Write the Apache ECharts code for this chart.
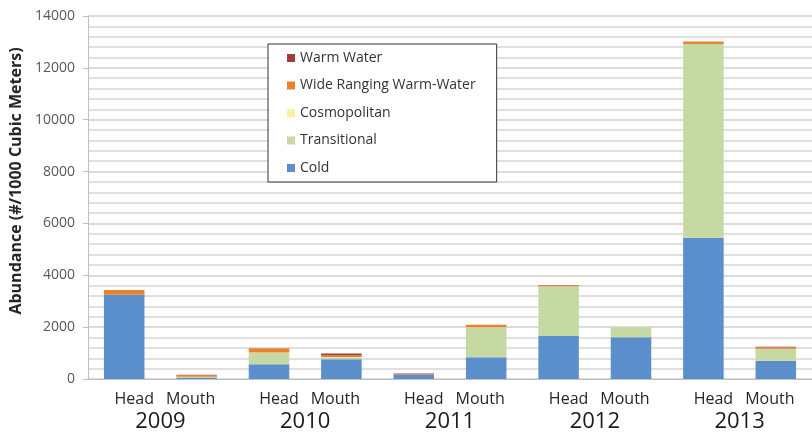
<!DOCTYPE html>
<html>
<head>
<meta charset="utf-8">
<script src="https://cdn.jsdelivr.net/npm/echarts@6/dist/echarts.min.js"></script>
<style>html,body{margin:0;padding:0;background:#fff;}#c{width:812px;height:436px;}</style>
</head>
<body>
<div id="c"></div>
<script>
var sites = ['Head','Mouth','Head','Mouth','Head','Mouth','Head','Mouth','Head','Mouth'];
var years = ['2009','2010','2011','2012','2013'];
var seriesNames = ['Cold','Transitional','Cosmopolitan','Wide Ranging Warm-Water','Warm Water'];
var cold         = [3250,  40,  565, 760, 160,  835, 1660, 1610, 5450, 705];
var transitional = [   0,  50,  450,  80,   0, 1155, 1920,  385, 7470, 465];
var cosmopolitan = [   0,   0,   10,  10,   0,   10,    0,    0,    0,   0];
var wideRanging  = [ 180,  50,  165,  70,  20,   90,   40,    0,  100,  50];
var warmWater    = [   0,  20,    0,  60,  30,    0,   10,    0,    0,  25];
var yTicks = [0,2000,4000,6000,8000,10000,12000,14000];

var colors = {
  'Cold':'#5B8FCB',
  'Transitional':'#C6D9A2',
  'Cosmopolitan':'#F6F59A',
  'Wide Ranging Warm-Water':'#E8822F',
  'Warm Water':'#A23C3C'
};
var values = [cold, transitional, cosmopolitan, wideRanging, warmWater];

var chart = echarts.init(document.getElementById('c'));
var series = seriesNames.map(function(n, i){
  return {
    name: n, type: 'bar', stack: 'total', xAxisIndex: 0,
    barWidth: '56%',
    itemStyle: {color: colors[n]},
    data: values[i]
  };
});

chart.setOption({
  animation: false,
  backgroundColor: '#fff',
  textStyle: {fontFamily: 'Open Sans'},
  grid: {left: 88, right: -4, top: 16, bottom: 57, containLabel: false},
  legend: {
    data: seriesNames.slice().reverse(),
    orient: 'vertical',
    left: 268, top: 44,
    padding: [7, 21, 7, 19],
    itemGap: 13.5,
    itemWidth: 8, itemHeight: 8,
    icon: 'rect',
    backgroundColor: '#fff',
    borderColor: '#333',
    borderWidth: 1,
    textStyle: {fontSize: 14, color: '#333', lineHeight: 14, fontFamily: 'Open Sans'}
  },
  xAxis: [{
    type: 'category',
    data: sites,
    axisLine: {show: true, lineStyle: {color: '#bfbfbf'}},
    axisTick: {show: false},
    axisLabel: {
      interval: 0, margin: 12, color: '#262626',
      formatter: function(v){ return v === 'Head' ? '{h|' + v + '}' : '{m|' + v + '}'; },
      rich: {
        h: {fontSize: 16, color: '#262626', padding: [0, 0, 0, 20], fontFamily: 'Open Sans'},
        m: {fontSize: 16, color: '#262626', padding: [0, 12, 0, 0], fontFamily: 'Open Sans'}
      }
    }
  }, {
    type: 'category',
    data: years,
    position: 'bottom',
    offset: 24,
    axisLine: {show: false},
    axisTick: {show: false},
    axisLabel: {interval: 0, margin: 8, fontSize: 22, color: '#1a1a1a', fontFamily: 'Open Sans'}
  }],
  yAxis: {
    type: 'value',
    min: 0, max: 14000, interval: 2000,
    name: 'Abundance (#/1000 Cubic Meters)',
    nameLocation: 'middle',
    nameRotate: 90,
    nameGap: 60,
    nameTextStyle: {fontSize: 16, fontWeight: 'bold', color: '#262626', padding: [0, 0, 0, 33], fontFamily: 'Open Sans'},
    axisLine: {show: true, lineStyle: {color: '#bfbfbf'}},
    axisTick: {show: true, length: 5, lineStyle: {color: '#bfbfbf'}},
    axisLabel: {color: '#595959', fontSize: 14, margin: 13, fontFamily: 'Open Sans',
      customValues: yTicks,
      formatter: function(v){ return String(v); }},
    splitLine: {show: true, lineStyle: {color: '#cfcfcf', width: 1.5}},
    minorTick: {show: false, splitNumber: 5},
    minorSplitLine: {show: true, lineStyle: {color: '#d6d6d6', width: 1.5}}
  },
  series: series
});
</script>
</body>
</html>
